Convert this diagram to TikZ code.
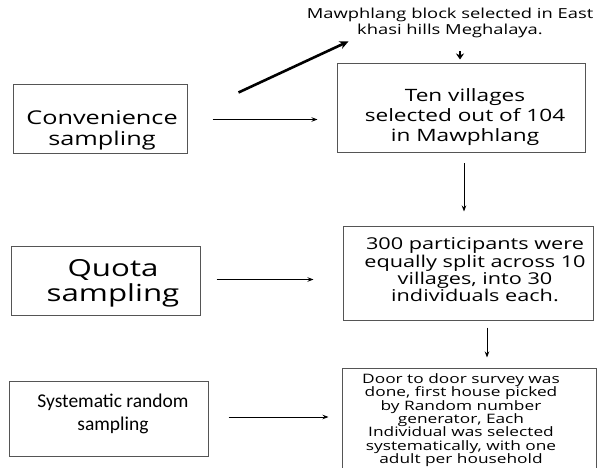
\documentclass[tikz,border=0pt]{standalone}
\usepackage{fontspec}
\setmainfont{Open Sans}
\newfontfamily\wide[FakeStretch=1.33]{Open Sans}
\newfontfamily\carl{Carlito}
\usetikzlibrary{arrows.meta,calc}
\definecolor{boxgray}{HTML}{555555}
\begin{document}
\begin{tikzpicture}[x=1pt,y=-1pt,
  box/.style={draw=boxgray, line width=1pt, rectangle, inner sep=0pt},
  txt/.style={align=center, inner sep=0pt, text=black},
  arr/.style={-{Stealth[length=6pt,width=4.5pt]}, line width=1pt}]
\useasboundingbox (0,0) rectangle (597,468);
\fill[white] (0,0) rectangle (597,468);

% boxes
\node[box, minimum width=174pt, minimum height=69pt] (conv) at (100,119.5) {};
\node[box, minimum width=248pt, minimum height=89pt] (ten) at (461,108.5) {};
\node[box, minimum width=189pt, minimum height=69pt] (quota) at (105.5,280.5) {};
\node[box, minimum width=250pt, minimum height=94pt] (p300) at (468,273) {};
\node[box, minimum width=199pt, minimum height=75pt] (sys) at (108.5,418.5) {};
\node[box, minimum width=254pt, minimum height=132pt] (door) at (469,434) {};

% texts
\node[txt, font=\wide\fontsize{13.8}{15.5}\selectfont] (maw) at (450,23) {Mawphlang block selected in East\\khasi hills Meghalaya.};
\node[txt, font=\wide\fontsize{19}{21}\selectfont] (convt) at (102,130) {Convenience\\sampling};
\node[txt, font=\wide\fontsize{17}{20}\selectfont] (tent) at (465,117) {Ten villages\\selected out of 104\\in Mawphlang};
\node[txt, font=\wide\fontsize{23.5}{25}\selectfont] (quotat) at (113,283) {Quota\\sampling};
\node[txt, font=\wide\fontsize{16.3}{15.6}\selectfont] (p300t) at (475,270) {300 participants were\\equally split across 10\\villages, into 30\\individuals each.};
\node[txt, font=\carl\fontsize{19.5}{23}\selectfont] (syst) at (113,414) {Systematic random\\sampling};
\node[txt, font=\wide\fontsize{13}{13.3}\selectfont, anchor=north] (doort) at (461,373.5) {Door to door survey was\\done, first house picked\\by Random number\\generator, Each\\Individual was selected\\systematically, with one\\adult per household};

% connectors
\draw[arr] ($(conv.east)+(25,0)$) -- ($(ten.west |- conv.east)+(-19,0)$);
\draw[line width=2.6pt, -{Stealth[length=9pt,width=8pt]}] ($(conv.north east)+(51,8)$) -- ($(maw.south west)+(42,3.5)$);
\draw[line width=2pt, -{Stealth[length=6pt,width=8pt]}] ($(ten.north)+(-1,-12)$) -- ($(ten.north)+(-1,-4)$);
\draw[arr] ($(ten.south)+(3,10)$) -- ($(p300.north)+(-4,-14)$);
\draw[arr] ($(quota.east)+(16,-1)$) -- ($(p300.west |- quota.east)+(-29,-1)$);
\draw[arr] ($(p300.south)+(19,7)$) -- ($(door.north)+(18,-10)$);
\draw[arr] ($(sys.east)+(20,-1.5)$) -- ($(door.west |- sys.east)+(-13,-1.5)$);
\end{tikzpicture}
\end{document}
